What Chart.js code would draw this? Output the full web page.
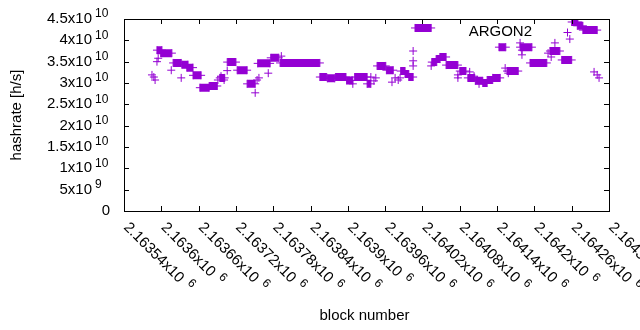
<!DOCTYPE html>
<html>
<head>
<meta charset="utf-8">
<script src="https://cdn.jsdelivr.net/npm/chart.js@4"></script>
<style>
  html, body { margin: 0; padding: 0; background: #fff; }
  #wrap { width: 640px; height: 330px; }
</style>
</head>
<body>
<div id="wrap"><canvas id="chart" width="640" height="330"></canvas></div>
<script>
// --- data ---
const xTickValues = [2163540, 2163600, 2163660, 2163720, 2163780, 2163840, 2163900,
  2163960, 2164020, 2164080, 2164140, 2164200, 2164260, 2164320];
const xTickLabels = ['2.16354x10^6', '2.1636x10^6', '2.16366x10^6', '2.16372x10^6',
  '2.16378x10^6', '2.16384x10^6', '2.1639x10^6', '2.16396x10^6', '2.16402x10^6',
  '2.16408x10^6', '2.16414x10^6', '2.1642x10^6', '2.16426x10^6', '2.16432x10^6'];
const yTickValues = [0, 5e9, 1e10, 1.5e10, 2e10, 2.5e10, 3e10, 3.5e10, 4e10, 4.5e10];
const yTickLabels = ['0', '5x10^9', '1x10^10', '1.5x10^10', '2x10^10', '2.5x10^10',
  '3x10^10', '3.5x10^10', '4x10^10', '4.5x10^10'];

// stretches of blocks with the same hashrate (first block, last block, value)
const runStart = [2163593, 2163599, 2163619, 2163633, 2163641, 2163651, 2163662, 2163677,
  2163694, 2163706, 2163722, 2163738, 2163755, 2163776, 2163791, 2163855, 2163867, 2163880,
  2163898, 2163911, 2163931, 2163947, 2163962, 2163985, 2163992, 2163998, 2164008, 2164035,
  2164042, 2164048, 2164058, 2164080, 2164093, 2164105, 2164117, 2164124, 2164133, 2164143,
  2164156, 2164177, 2164193, 2164225, 2164244, 2164260, 2164269, 2164278];
const runEnd = [2163601, 2163617, 2163632, 2163643, 2163651, 2163664, 2163677, 2163690,
  2163702, 2163720, 2163738, 2163751, 2163775, 2163789, 2163855, 2163866, 2163879, 2163897,
  2163908, 2163931, 2163937, 2163961, 2163973, 2163992, 2163998, 2164005, 2164034, 2164043,
  2164048, 2164058, 2164077, 2164090, 2164104, 2164117, 2164124, 2164133, 2164145, 2164154,
  2164174, 2164196, 2164220, 2164241, 2164260, 2164270, 2164278, 2164301];
const runValue = [37.7e9, 37.0e9, 34.7e9, 34.3e9, 33.6e9, 31.8e9, 28.9e9, 29.3e9,
  31.2e9, 34.9e9, 33.0e9, 29.8e9, 34.6e9, 35.9e9, 34.7e9, 31.4e9, 31.1e9, 31.4e9,
  30.6e9, 31.4e9, 29.8e9, 34.0e9, 33.0e9, 32.8e9, 32.1e9, 31.4e9, 42.9e9, 34.9e9,
  35.6e9, 36.1e9, 34.2e9, 32.8e9, 31.2e9, 30.5e9, 30.0e9, 30.7e9, 31.2e9, 38.4e9,
  32.8e9, 38.4e9, 34.7e9, 37.5e9, 35.4e9, 44.3e9, 43.4e9, 42.4e9];

// single scattered blocks
const pointBlock = [2163585, 2163588, 2163590, 2163593, 2163595, 2163616, 2163632, 2163691,
  2163696, 2163701, 2163706, 2163751, 2163754, 2163757, 2163772, 2163793, 2163908, 2163937,
  2163942, 2163945, 2163971, 2163976, 2163981, 2163984, 2164005, 2164005, 2164005, 2164034,
  2164077, 2164077, 2164096, 2164103, 2164108, 2164111, 2164153, 2164158, 2164177, 2164180,
  2164180, 2164222, 2164227, 2164233, 2164257, 2164296, 2164301, 2164304];
const pointValue = [31.9e9, 31.4e9, 30.7e9, 35.0e9, 35.8e9, 33.0e9, 31.2e9, 30.7e9,
  31.6e9, 30.7e9, 32.9e9, 27.7e9, 30.7e9, 31.2e9, 32.3e9, 36.3e9, 29.8e9, 31.4e9,
  30.5e9, 31.2e9, 30.2e9, 31.2e9, 30.7e9, 31.2e9, 37.5e9, 35.2e9, 34.0e9, 34.0e9,
  31.9e9, 31.2e9, 32.6e9, 31.6e9, 30.7e9, 29.8e9, 33.5e9, 32.3e9, 39.4e9, 37.7e9,
  36.6e9, 37.0e9, 36.1e9, 39.4e9, 40.3e9, 32.6e9, 31.9e9, 31.2e9];

const seriesName = 'ARGON2';
const purple = '#9400d3';
const FONT = '"Liberation Sans", Arial, sans-serif';

// build datasets
const runLine = [];
const crosses = [];
runStart.forEach((s, i) => {
  runLine.push({ x: s, y: runValue[i] }, { x: runEnd[i], y: runValue[i] }, { x: runEnd[i], y: null });
  crosses.push({ x: s, y: runValue[i] }, { x: runEnd[i], y: runValue[i] });
});
pointBlock.forEach((b, i) => crosses.push({ x: b, y: pointValue[i] }));

// draw "a^b" label with superscript
function supText(ctx, str, x, y, supGap) {
  const [base, sup] = str.split('^');
  ctx.font = '15px ' + FONT;
  ctx.textAlign = 'left';
  ctx.fillText(base, x, y);
  if (sup) {
    const w = ctx.measureText(base).width;
    ctx.font = '12px ' + FONT;
    ctx.fillText(sup, x + w + supGap, y - 5);
  }
}

const gnuplotFrame = {
  id: 'gnuplotFrame',
  afterDraw(chart) {
    const { ctx, chartArea: a, scales: { x, y } } = chart;
    ctx.save();
    ctx.strokeStyle = '#000';
    ctx.lineWidth = 1;
    ctx.beginPath();
    // ticks on all four sides, pointing in
    yTickValues.forEach(v => {
      const py = Math.round(y.getPixelForValue(v)) + 0.5;
      ctx.moveTo(a.left, py); ctx.lineTo(a.left + 5, py);
      ctx.moveTo(a.right, py); ctx.lineTo(a.right - 5, py);
    });
    xTickValues.forEach(v => {
      const px = Math.round(x.getPixelForValue(v)) + 0.5;
      ctx.moveTo(px, a.bottom); ctx.lineTo(px, a.bottom - 5);
      ctx.moveTo(px, a.top); ctx.lineTo(px, a.top + 5);
    });
    ctx.stroke();
    ctx.strokeRect(a.left + 0.5, a.top + 0.5, a.right - a.left, a.bottom - a.top);

    ctx.fillStyle = '#000';
    ctx.textBaseline = 'middle';
    // y tick labels
    yTickValues.forEach((v, i) => {
      const py = y.getPixelForValue(v);
      const lab = yTickLabels[i];
      if (lab.includes('^')) {
        const [base, sup] = lab.split('^');
        ctx.font = '15px ' + FONT;
        ctx.textAlign = 'right';
        ctx.fillText(base, a.left - 32, py);
        ctx.font = '12px ' + FONT;
        ctx.textAlign = 'left';
        ctx.fillText(sup, a.left - 29, py - 5);
      } else {
        ctx.font = '15px ' + FONT;
        ctx.textAlign = 'right';
        ctx.fillText(lab, a.left - 14, py);
      }
    });
    // x tick labels, rotated down-right
    xTickValues.forEach((v, i) => {
      const px = x.getPixelForValue(v);
      ctx.save();
      ctx.translate(px + 2, a.bottom + 14);
      ctx.rotate(Math.PI / 4);
      supText(ctx, xTickLabels[i], 0, 0, 6);
      ctx.restore();
    });
    // axis titles
    ctx.font = '15px ' + FONT;
    ctx.textAlign = 'center';
    ctx.fillText('block number', (a.left + a.right) / 2 - 2, 316);
    ctx.save();
    ctx.translate(17, (a.top + a.bottom) / 2);
    ctx.rotate(-Math.PI / 2);
    ctx.fillText('hashrate [h/s]', 0, 0);
    ctx.restore();
    // key
    ctx.textAlign = 'right';
    ctx.fillText(seriesName, 532, 32);
    ctx.strokeStyle = purple;
    ctx.beginPath();
    ctx.moveTo(563.5, 32.5); ctx.lineTo(571.5, 32.5);
    ctx.moveTo(567.5, 28.5); ctx.lineTo(567.5, 36.5);
    ctx.stroke();
    ctx.restore();
  }
};

new Chart(document.getElementById('chart'), {
  type: 'scatter',
  data: {
    datasets: [
      {
        type: 'line',
        label: seriesName,
        data: runLine,
        borderColor: purple,
        borderWidth: 8,
        borderCapStyle: 'butt',
        pointRadius: 0,
        spanGaps: false,
        tension: 0,
      },
      {
        label: seriesName,
        data: crosses,
        pointStyle: 'cross',
        pointRadius: 4,
        borderColor: purple,
        borderWidth: 1,
        backgroundColor: purple,
      },
    ],
  },
  options: {
    responsive: false,
    animation: false,
    events: [],
    layout: { padding: { left: 124, right: 31, top: 19, bottom: 119 } },
    plugins: { legend: { display: false }, tooltip: { enabled: false } },
    scales: {
      x: { type: 'linear', display: false, min: 2163540, max: 2164320 },
      y: { type: 'linear', display: false, min: 0, max: 4.5e10 },
    },
  },
  plugins: [gnuplotFrame],
});
</script>
</body>
</html>
